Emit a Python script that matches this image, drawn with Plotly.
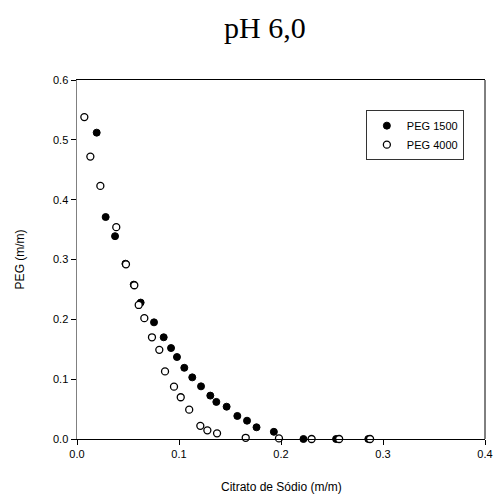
import plotly.graph_objects as go

# PEG 1500 (filled circles)
x_peg1500 = [0.0193, 0.0281, 0.0373, 0.0475, 0.0556, 0.0624, 0.0755, 0.085, 0.0922, 0.098,
             0.1052, 0.113, 0.1216, 0.1307, 0.1366, 0.1467, 0.1572, 0.1667, 0.176, 0.193,
             0.222, 0.254, 0.2856]
y_peg1500 = [0.512, 0.371, 0.339, 0.293, 0.258, 0.228, 0.195, 0.170, 0.152, 0.137,
             0.119, 0.103, 0.088, 0.0725, 0.062, 0.054, 0.0385, 0.0306, 0.0196, 0.012,
             0.0, 0.0, 0.0]

# PEG 4000 (open circles)
x_peg4000 = [0.0072, 0.0131, 0.0229, 0.0385, 0.048, 0.0562, 0.0605, 0.066, 0.0735, 0.0807,
             0.0863, 0.0951, 0.1017, 0.110, 0.1209, 0.1278, 0.1373, 0.1654, 0.198, 0.230,
             0.257, 0.2873]
y_peg4000 = [0.538, 0.472, 0.423, 0.354, 0.292, 0.257, 0.224, 0.202, 0.170, 0.149,
             0.113, 0.0875, 0.0698, 0.049, 0.022, 0.0145, 0.0095, 0.002, 0.001, 0.0,
             0.0, 0.0]

x_ticks = [0.0, 0.1, 0.2, 0.3, 0.4]
x_ticklabels = ["0.0", "0.1", "0.2", "0.3", "0.4"]
y_ticks = [0.0, 0.1, 0.2, 0.3, 0.4, 0.5, 0.6]
y_ticklabels = ["0.0", "0.1", "0.2", "0.3", "0.4", "0.5", "0.6"]

font_sans = "Liberation Sans, Arial, sans-serif"
font_serif = "Liberation Serif, Times New Roman, serif"

fig = go.Figure()
fig.add_trace(go.Scatter(
    x=x_peg1500, y=y_peg1500, mode="markers", name="PEG 1500",
    marker=dict(symbol="circle", size=7, color="black", line=dict(color="black", width=1)),
    cliponaxis=False,
))
fig.add_trace(go.Scatter(
    x=x_peg4000, y=y_peg4000, mode="markers", name="PEG 4000",
    marker=dict(symbol="circle", size=7, color="white", line=dict(color="black", width=1.3)),
    cliponaxis=False,
))

fig.update_layout(
    width=495, height=499,
    margin=dict(l=77, r=10, t=80, b=60, autoexpand=False),
    paper_bgcolor="white", plot_bgcolor="white",
    showlegend=True,
    legend=dict(
        x=0.708, y=0.916, xanchor="left", yanchor="top",
        bordercolor="#333333", borderwidth=1, bgcolor="white",
        font=dict(family=font_sans, size=11, color="black"),
        itemwidth=30, tracegroupgap=0,
    ),
    title=dict(
        text="pH 6,0", x=0.535, xanchor="center", y=0.944, yanchor="middle",
        xref="container", yref="container",
        font=dict(family=font_serif, size=30, color="black"),
    ),
    font=dict(family=font_sans, size=11, color="black"),
    annotations=[
        dict(text="Citrato de Sódio (m/m)", x=0.5, y=-0.134, xref="paper", yref="paper",
             xanchor="center", yanchor="middle", showarrow=False,
             font=dict(family=font_sans, size=12, color="black")),
        dict(text="PEG (m/m)", x=-0.14, y=0.5, xref="paper", yref="paper",
             xanchor="center", yanchor="middle", showarrow=False, textangle=-90,
             font=dict(family=font_sans, size=12, color="black")),
    ],
)

fig.update_xaxes(
    range=[0, 0.4], tickvals=x_ticks, ticktext=x_ticklabels,
    showgrid=False, zeroline=False, automargin=False,
    showline=True, linecolor="black", linewidth=1, mirror=True,
    ticks="outside", ticklen=5, tickcolor="black",
    tickfont=dict(family=font_sans, size=11, color="black"),
)
fig.update_yaxes(
    range=[0, 0.6], tickvals=y_ticks, ticktext=y_ticklabels,
    showgrid=False, zeroline=False, automargin=False,
    showline=True, linecolor="#808080", linewidth=1.5, mirror=False,
    ticks="outside", ticklen=5, tickcolor="black",
    tickfont=dict(family=font_sans, size=11, color="black"),
)
# right frame edge in black
fig.add_shape(type="line", xref="paper", yref="paper", x0=1, x1=1, y0=0, y1=1,
              line=dict(color="black", width=1))

fig.write_html(
    "out.html",
    config={"displayModeBar": False, "staticPlot": True},
    post_script="document.body.style.margin='0';document.body.style.overflow='hidden';",
)
